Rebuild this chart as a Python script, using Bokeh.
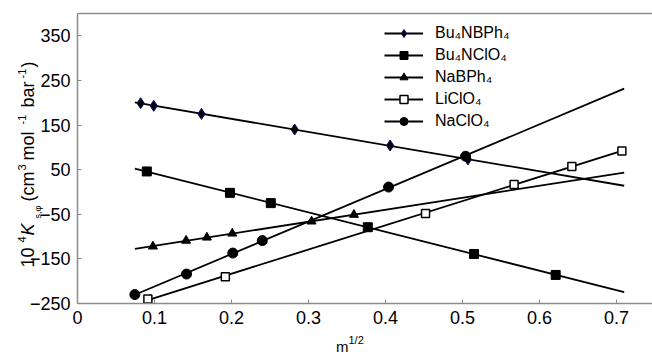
import numpy as np
from bokeh.plotting import figure
from bokeh.models import (Range1d, FixedTicker, Legend, LegendItem, Label,
                          LinearAxis)
from bokeh.embed import file_html
from bokeh.resources import INLINE

# ---- data (m^1/2, 10^4 K_s,phi) ----
series_names = ["Bu₄NBPh₄", "Bu₄NClO₄", "NaBPh₄", "LiClO₄", "NaClO₄"]

x_bu4nbph4 = [0.082, 0.099, 0.161, 0.282, 0.406, 0.507]
y_bu4nbph4 = [199, 193, 175, 140, 104, 73]

x_bu4nclo4 = [0.090, 0.198, 0.251, 0.377, 0.515, 0.621]
y_bu4nclo4 = [46, -2, -25, -79, -139, -186]

x_nabph4 = [0.098, 0.141, 0.168, 0.201, 0.304, 0.359]
y_nabph4 = [-122, -109, -102, -93, -66, -51]

x_liclo4 = [0.0914, 0.192, 0.452, 0.567, 0.642, 0.707]
y_liclo4 = [-240, -190, -48, 17, 57, 92]

x_naclo4 = [0.0745, 0.1416, 0.2017, 0.240, 0.404, 0.504]
y_naclo4 = [-230, -184, -137, -109, 11, 80]

# extent of each fitted trend line (m^1/2)
fit_start = [0.0745, 0.0745, 0.0745, 0.0914, 0.0745]
fit_end = [0.71, 0.71, 0.71, 0.71, 0.71]

x_ticks = [0, 0.1, 0.2, 0.3, 0.4, 0.5, 0.6, 0.7]
x_tick_labels = ["0", "0.1", "0.2", "0.3", "0.4", "0.5", "0.6", "0.7"]
y_ticks = [-250, -150, -50, 50, 150, 250, 350]

# axis title pieces
ylab_text = ["10", "4", "K", "s,φ", "(cm", "3", "mol", "-1", "bar", "-1", ")"]
ylab_size = ["18px", "11px", "18px", "9px", "18px", "11px", "18px", "11px", "18px", "11px", "18px"]
ylab_style = ["normal", "normal", "italic", "normal", "normal", "normal",
              "normal", "normal", "normal", "normal", "normal"]
ylab_start_px = [267, 242, 235, 218, 201, 170, 160, 124, 107, 78, 67]
ylab_mid_px = [27, 21.5, 27, 37, 27, 21.5, 27, 21.5, 27, 21.5, 27]

FONT = "Liberation Sans"
AX = "#8c8c8c"
W, H = 652, 354

# plot-area geometry (pixels) -> data ranges; the frame covers the canvas,
# axes are pinned with fixed_location so the titles can sit beside them
X0_PX, Y0_PX, YTOP_PX = 77, 303, 13
X_UNIT = 770.0                       # px per 1.0 of m^1/2
Y_UNIT = (Y0_PX - YTOP_PX) / 650.0   # px per 1 unit of K
x_lo, x_hi = -X0_PX / X_UNIT, (W - X0_PX) / X_UNIT
y_lo, y_hi = -250 - (H - Y0_PX) / Y_UNIT, -250 + Y0_PX / Y_UNIT


def X(px):
    return (px - X0_PX) / X_UNIT


def Y(py):
    return -250 + (Y0_PX - py) / Y_UNIT


p = figure(width=W, height=H, output_backend="svg", toolbar_location=None,
           title=None, x_range=Range1d(x_lo, x_hi), y_range=Range1d(y_lo, y_hi),
           min_border=0, min_border_left=0, min_border_right=0,
           min_border_top=0, min_border_bottom=0)
p.outline_line_color = None
p.xgrid.grid_line_color = None
p.ygrid.grid_line_color = None

xa, ya = p.xaxis[0], p.yaxis[0]
xa.ticker = FixedTicker(ticks=x_ticks)
xa.major_label_overrides = {t: l for t, l in zip(x_ticks, x_tick_labels)}
xa.fixed_location = -250
xa.bounds = (0, x_hi)
ya.ticker = FixedTicker(ticks=y_ticks)
ya.fixed_location = 0
ya.bounds = (-250, 400)
for ax in (xa, ya):
    ax.axis_label = None
    ax.axis_line_color = AX
    ax.axis_line_width = 1.5
    ax.major_tick_in = 4
    ax.major_tick_out = 0
    ax.major_tick_line_color = AX
    ax.major_tick_line_width = 1
    ax.minor_tick_line_color = None
    ax.major_label_text_font = FONT
    ax.major_label_text_font_size = "18px"
    ax.major_label_text_color = "black"
xa.major_label_standoff = 7
ya.major_label_standoff = 7

top = LinearAxis(fixed_location=400, bounds=(0, x_hi), ticker=FixedTicker(ticks=[]),
                 axis_line_color=AX, axis_line_width=1.5,
                 major_tick_line_color=None, minor_tick_line_color=None)
p.add_layout(top, "above")

xs = [x_bu4nbph4, x_bu4nclo4, x_nabph4, x_liclo4, x_naclo4]
ys = [y_bu4nbph4, y_bu4nclo4, y_nabph4, y_liclo4, y_naclo4]
styles = [
    dict(marker="diamond", size=11, fill_color="black", line_color="#10106e", line_width=1),
    dict(marker="square", size=9, fill_color="black", line_color="black", line_width=1),
    dict(marker="triangle", size=9, fill_color="black", line_color="black", line_width=1),
    dict(marker="square", size=8, fill_color="white", line_color="black", line_width=1.5),
    dict(marker="circle", size=10, fill_color="black", line_color="black", line_width=1),
]

line_rs = []
for xv, yv, s0, s1 in zip(xs, ys, fit_start, fit_end):
    k, b = np.polyfit(np.array(xv), np.array(yv), 1)
    fx = np.array([s0, s1])
    line_rs.append(p.line(fx, k * fx + b, line_color="black", line_width=1.8))
items = []
for name, xv, yv, st, lr in zip(series_names, xs, ys, styles, line_rs):
    sr = p.scatter(xv, yv, **st)
    items.append(LegendItem(label=name, renderers=[lr, sr]))

legend = Legend(items=items, location=(384, 223), padding=0, margin=0,
                border_line_color=None, background_fill_alpha=0,
                glyph_width=39, glyph_height=20, label_height=20, spacing=2,
                label_standoff=12, label_text_font=FONT,
                label_text_font_size="16px", label_text_color="black")
p.add_layout(legend)

# y-axis title, rotated pieces
for t, py, px, fs, sty in zip(ylab_text, ylab_start_px, ylab_mid_px, ylab_size, ylab_style):
    p.add_layout(Label(x=X(px), y=Y(py), text=t, angle=np.pi / 2,
                       text_align="left", text_baseline="middle",
                       text_font=FONT, text_font_size=fs, text_font_style=sty,
                       text_color="black"))

# x-axis title
p.add_layout(Label(x=X(341.7), y=Y(345.5), text="m", text_align="center",
                   text_baseline="middle", text_font=FONT,
                   text_font_size="15px", text_color="black"))
p.add_layout(Label(x=X(348), y=Y(339.5), text="1/2", text_align="left",
                   text_baseline="middle", text_font=FONT,
                   text_font_size="11px", text_color="black"))

open("out.html", "w").write(file_html(p, INLINE))
